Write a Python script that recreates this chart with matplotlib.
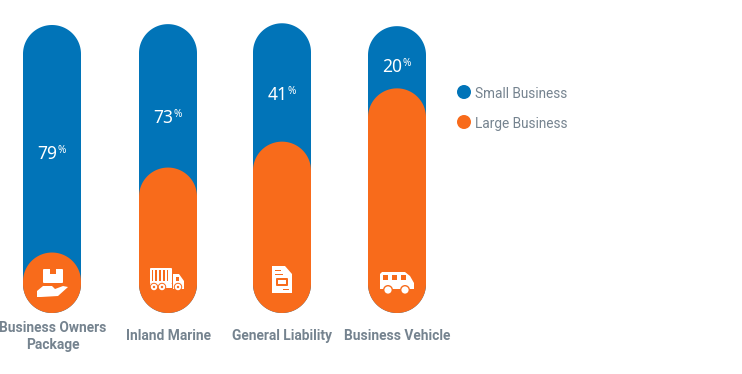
import matplotlib
matplotlib.use('Agg')
import numpy as np
import matplotlib.pyplot as plt
from matplotlib.patches import Circle, Rectangle, Polygon, FancyBboxPatch

categories = ['Business Owners\nPackage', 'Inland Marine', 'General Liability', 'Business Vehicle']
small_total = [100, 100.3, 100.6, 99.6]
large_values = [21, 50.5, 59.5, 78]
share_labels = ['79', '73', '41', '20']
legend_names = ['Small Business', 'Large Business']

BLUE = '#0174b8'
ORANGE = '#f86b1b'
GREY = '#75838f'
W, H = 742, 374

fig = plt.figure(figsize=(W / 100, H / 100), dpi=100)

# bar axes: value 0 sits at pixel row 313, value 100 at row 25
bar_ax = fig.add_axes([0, (H - 313) / H, 1, 288 / H])
bar_ax.set_xlim(0, W)
bar_ax.set_ylim(0, 100)
bar_ax.axis('off')

# overlay in pixel coords, for text, legend and icons
ov = fig.add_axes([0, 0, 1, 1], zorder=5)
ov.set_xlim(0, W)
ov.set_ylim(H, 0)
ov.axis('off')
ov.patch.set_alpha(0)

centers = [52, 168, 282, 397]
bar_w = 58
y_per_px = 100 / 288


def pill(ax, cx, top, color, z):
    r = bar_w / 2
    ry = r * y_per_px
    t = np.linspace(np.pi, 0, 60)
    xs = cx + r * np.cos(t)
    ys = top - ry + ry * np.sin(t)
    bt = np.linspace(0, -np.pi, 60)
    xb = cx + r * np.cos(bt)
    yb = ry + ry * np.sin(bt)
    ax.add_patch(Polygon(np.column_stack([np.r_[xs, xb], np.r_[ys, yb]]),
                         closed=True, fc=color, ec='none', zorder=z, clip_on=False))


for i in range(4):
    pill(bar_ax, centers[i], small_total[i], BLUE, 2)
    pill(bar_ax, centers[i], large_values[i], ORANGE, 3)

# percent labels
label_y = [153.5, 117.5, 94.5, 66.5]
for i in range(4):
    ov.text(centers[i] + 5.5, label_y[i], share_labels[i], color='white', fontsize=12.5,
            family='Noto Sans', ha='right', va='center')
    ov.text(centers[i] + 5.8, label_y[i] - 3.5, '%', color='white', fontsize=7.2,
            family='Noto Sans', weight='bold', ha='left', va='center')

# category labels
label_rows = [336.5, 336, 336, 336]
for i in range(4):
    ov.text(centers[i] + (0.5 if i == 0 else 0), label_rows[i], categories[i], color=GREY,
            fontsize=9.95, family='Roboto', weight='bold', ha='center', va='center',
            linespacing=1.3)

# legend
for y, c, name in zip([92, 122], [BLUE, ORANGE], legend_names):
    ov.add_patch(Circle((464, y), 7, fc=c, ec='none'))
    ov.text(475, y + 1.8, name, color=GREY, fontsize=9.8, family='Roboto', va='center')


def box(x0, y0, x1, y1, c='white', r=1.0):
    ov.add_patch(FancyBboxPatch((x0 + r, y0 + r), x1 - x0 - 2 * r, y1 - y0 - 2 * r,
                                boxstyle='round,pad=%g,rounding_size=%g' % (r, r),
                                fc=c, ec='none', zorder=6))


def dot(x, y, r, c='white'):
    ov.add_patch(Circle((x, y), r, fc=c, ec='none', zorder=7))


# hand with parcel
box(43, 269, 63, 283)
ov.add_patch(Rectangle((50, 269), 6, 5, fc=ORANGE, ec='none', zorder=7))
ov.add_patch(Polygon([(37, 291), (43, 286), (52, 286), (55, 289), (63, 286), (68, 287),
                      (58, 296), (41, 297), (37, 297)], fc='white', ec='none', zorder=6))

# truck
box(150, 268, 172, 284)
ov.add_patch(Rectangle((152, 270), 18, 11, fc=ORANGE, ec='none', zorder=7))
for x in [153, 157, 161, 165, 168]:
    ov.add_patch(Rectangle((x, 270), 1.6, 11, fc='white', ec='none', zorder=8))
ov.add_patch(Rectangle((150, 284), 22, 3.5, fc='white', ec='none', zorder=6))
ov.add_patch(Polygon([(173, 274), (179, 274), (184, 281), (184, 289), (173, 289)],
                     fc='white', ec='none', zorder=6))
ov.add_patch(Rectangle((176, 276.5), 3, 4, fc=ORANGE, ec='none', zorder=7))
for x in [154, 162, 178]:
    dot(x, 287, 4.2, ORANGE)
    dot(x, 287, 3.2)
    dot(x, 287, 1.2, ORANGE)

# document
ov.add_patch(Polygon([(272, 266), (285, 266), (292, 274), (292, 293), (272, 293)],
                     fc='white', ec='none', zorder=6))
ov.add_patch(Rectangle((275, 270), 6, 1.3, fc=ORANGE, ec='none', zorder=7))
ov.add_patch(Rectangle((275, 274), 8, 1.3, fc=ORANGE, ec='none', zorder=7))
box(276, 278, 288, 286, ORANGE)
ov.add_patch(Rectangle((278, 280), 8, 4, fc='white', ec='none', zorder=8))
ov.add_patch(Rectangle((283, 288.5), 6, 1.3, fc=ORANGE, ec='none', zorder=7))

# van
ov.add_patch(Polygon([(382, 272), (405, 272), (410, 276), (414, 283), (414, 289), (380, 289),
                      (380, 274)], fc='white', ec='none', zorder=6))
for x0, x1 in [(383, 388), (392, 397), (401, 406)]:
    ov.add_patch(Rectangle((x0, 275), x1 - x0, 5, fc=ORANGE, ec='none', zorder=7))
for x in [388, 405]:
    dot(x, 290, 5, ORANGE)
    dot(x, 290, 3.6)

fig.savefig('out.png', dpi=100)
